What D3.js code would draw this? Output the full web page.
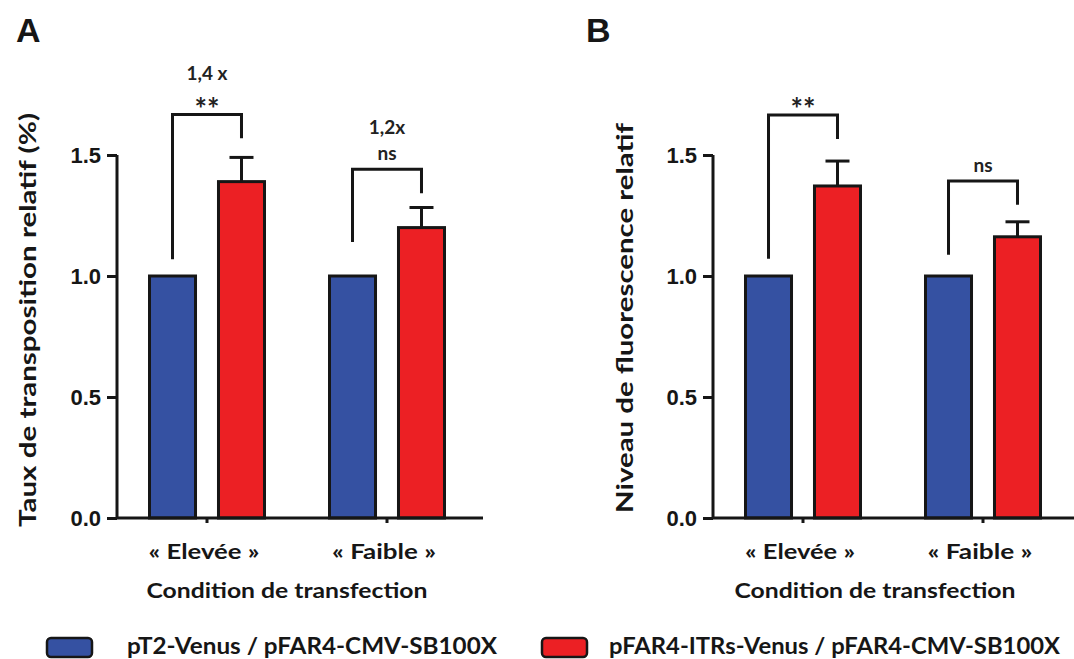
<!DOCTYPE html>
<html><head><meta charset="utf-8">
<script src="https://cdn.jsdelivr.net/npm/d3@7"></script>
<style>
html,body{margin:0;padding:0;background:#fff;}
svg{display:block;}
</style></head>
<body>
<svg id="chart" width="1074" height="659"></svg>
<script>
// ---------- data ----------
const categories = ["« Elevée »", "« Faible »"];
const series = ["pT2-Venus / pFAR4-CMV-SB100X", "pFAR4-ITRs-Venus / pFAR4-CMV-SB100X"];
const yTicks = [0, 0.5, 1.0, 1.5];

const blueA = [1.0, 1.0];
const redA = [1.39, 1.20];
const redErrA = [0.10, 0.083];
const sigA = ["**", "ns"];
const foldA = ["1,4 x", "1,2x"];
// bracket heights (data units): top, left-leg bottom, right-leg bottom
const bracketTopA = [1.667, 1.441];
const bracketLeftA = [1.069, 1.14];
const bracketRightA = [1.569, 1.342];

const blueB = [1.0, 1.0];
const redB = [1.372, 1.162];
const redErrB = [0.103, 0.062];
const sigB = ["**", "ns"];
const foldB = ["", ""];
const bracketTopB = [1.665, 1.393];
const bracketLeftB = [1.071, 1.088];
const bracketRightB = [1.566, 1.294];

const colors = ["#3551a2", "#ec2024"];
const calibri = "Lato, 'Open Sans', sans-serif";
const arial = "'Liberation Sans', Arial, sans-serif";
const ink = "#161616";

const svg = d3.select("#chart");

function panel(cfg) {
  const g = svg.append("g");
  const y = d3.scaleLinear().domain([0, 1.5]).range([518, 155]);
  const x = d3.scaleBand().domain(categories).range([cfg.x0, cfg.x0 + 360]).paddingInner(0).paddingOuter(0);
  const inner = d3.scaleBand().domain([0, 1]).range([-57.5, 57.5]).paddingInner(0.333).paddingOuter(0);
  const cx = c => x(c) + x.bandwidth() / 2;

  // bars
  const rows = [];
  categories.forEach((c, i) => {
    rows.push({c, s: 0, v: cfg.blue[i], e: 0});
    rows.push({c, s: 1, v: cfg.red[i], e: cfg.err[i]});
  });
  g.selectAll("rect.bar").data(rows).join("rect")
    .attr("class", "bar")
    .attr("x", d => cx(d.c) + inner(d.s))
    .attr("width", inner.bandwidth())
    .attr("y", d => y(d.v))
    .attr("height", d => y(0) - y(d.v))
    .attr("fill", d => colors[d.s])
    .attr("stroke", ink)
    .attr("stroke-width", 3);

  // error bars
  const errs = rows.filter(d => d.e > 0);
  g.selectAll("line.stem").data(errs).join("line")
    .attr("x1", d => cx(d.c) + inner(d.s) + inner.bandwidth() / 2)
    .attr("x2", d => cx(d.c) + inner(d.s) + inner.bandwidth() / 2)
    .attr("y1", d => y(d.v)).attr("y2", d => y(d.v + d.e))
    .attr("stroke", ink).attr("stroke-width", 3);
  g.selectAll("line.cap").data(errs).join("line")
    .attr("x1", d => cx(d.c) + inner(d.s) + inner.bandwidth() / 2 - 12)
    .attr("x2", d => cx(d.c) + inner(d.s) + inner.bandwidth() / 2 + 12)
    .attr("y1", d => y(d.v + d.e)).attr("y2", d => y(d.v + d.e))
    .attr("stroke", ink).attr("stroke-width", 3);

  // brackets
  categories.forEach((c, i) => {
    const xl = cx(c) + inner(0) + inner.bandwidth() / 2;
    const xr = cx(c) + inner(1) + inner.bandwidth() / 2;
    const path = d3.path();
    path.moveTo(xl, y(cfg.bl[i]));
    path.lineTo(xl, y(cfg.bt[i]));
    path.lineTo(xr, y(cfg.bt[i]));
    path.lineTo(xr, y(cfg.br[i]));
    g.append("path").attr("d", path.toString()).attr("fill", "none")
      .attr("stroke", ink).attr("stroke-width", 3);
    const mx = (xl + xr) / 2;
    const sig = cfg.sig[i];
    if (sig === "**") {
      g.append("text").attr("x", mx).attr("y", y(cfg.bt[i]) + 5)
        .attr("text-anchor", "middle")
        .attr("font-family", calibri).attr("font-weight", "bold")
        .attr("font-size", 30).attr("fill", "#222")
        .attr("textLength", 25).attr("lengthAdjust", "spacingAndGlyphs")
        .text(sig);
    } else {
      g.append("text").attr("x", mx).attr("y", y(cfg.bt[i]) - 9)
        .attr("text-anchor", "middle")
        .attr("font-family", calibri).attr("font-weight", "bold")
        .attr("font-size", 19).attr("fill", "#222")
        .text(sig);
    }
    if (cfg.fold[i]) {
      g.append("text").attr("x", mx).attr("y", y(cfg.bt[i]) - 35)
        .attr("text-anchor", "middle")
        .attr("font-family", calibri).attr("font-weight", "bold")
        .attr("font-size", 19).attr("fill", "#222")
        .text(cfg.fold[i]);
    }
  });

  // y axis
  const yAxis = d3.axisLeft(y).tickValues(yTicks).tickFormat(d3.format(".1f")).tickSize(10).tickPadding(6);
  const ya = g.append("g").attr("transform", `translate(${cfg.x0},0)`).call(yAxis);
  ya.select(".domain").attr("stroke", ink).attr("stroke-width", 3).attr("d", `M0,${y(1.5)}V${y(0)}`);
  ya.selectAll(".tick line").attr("stroke", ink).attr("stroke-width", 3);
  ya.selectAll(".tick text").attr("font-family", arial).attr("font-weight", "bold")
    .attr("font-size", 22).attr("fill", ink).attr("dy", "0.36em");

  // x axis
  const xAxis = d3.axisBottom(x).tickSize(5).tickFormat("");
  const xa = g.append("g").attr("transform", `translate(0,${y(0)})`).call(xAxis);
  xa.select(".domain").attr("stroke", ink).attr("stroke-width", 3).attr("d", `M${cfg.x0},0H${cfg.xEnd}`);
  xa.selectAll(".tick line").attr("stroke", ink).attr("stroke-width", 3);

  // category labels
  g.selectAll("text.cat").data(categories).join("text")
    .attr("class", "cat")
    .attr("x", d => cx(d) - 3).attr("y", 559)
    .attr("text-anchor", "middle")
    .attr("font-family", calibri).attr("font-weight", "bold").attr("font-size", 21)
    .attr("fill", ink)
    .attr("textLength", (d, i) => cfg.catLen[i]).attr("lengthAdjust", "spacingAndGlyphs")
    .text(d => d);

  // x title
  g.append("text").attr("x", (cx(categories[0]) + cx(categories[1])) / 2 + cfg.xtOff).attr("y", 598)
    .attr("text-anchor", "middle")
    .attr("font-family", calibri).attr("font-weight", "bold").attr("font-size", 21)
    .attr("fill", ink)
    .attr("textLength", 281).attr("lengthAdjust", "spacingAndGlyphs")
    .text("Condition de transfection");

  // y title
  g.append("text")
    .attr("transform", `translate(${cfg.ytX},${cfg.ytY}) rotate(-90)`)
    .attr("text-anchor", "middle").attr("dy", "0.35em")
    .attr("font-family", calibri).attr("font-weight", "bold").attr("font-size", 22)
    .attr("fill", ink)
    .attr("textLength", cfg.ytLen).attr("lengthAdjust", "spacingAndGlyphs")
    .text(cfg.ytitle);

  // panel letter
  g.append("text").attr("x", cfg.letterX).attr("y", 42)
    .attr("font-family", arial).attr("font-weight", "bold").attr("font-size", 34)
    .attr("fill", ink).text(cfg.letter);
}

panel({x0: 117, xEnd: 483, blue: blueA, red: redA, err: redErrA, sig: sigA, fold: foldA,
  bt: bracketTopA, bl: bracketLeftA, br: bracketRightA,
  catLen: [111, 104], xtOff: -10,
  ytitle: "Taux de transposition relatif (%)", ytX: 28, ytY: 320, ytLen: 414,
  letter: "A", letterX: 16});

panel({x0: 713, xEnd: 1074, blue: blueB, red: redB, err: redErrB, sig: sigB, fold: foldB,
  bt: bracketTopB, bl: bracketLeftB, br: bracketRightB,
  catLen: [110, 105], xtOff: -18,
  ytitle: "Niveau de fluorescence relatif", ytX: 625, ytY: 318, ytLen: 390,
  letter: "B", letterX: 586});

// legend
const legX = [47, 542];
const legTextX = [127, 609];
const legLen = [370, 451];
series.forEach((s, i) => {
  svg.append("rect").attr("x", legX[i]).attr("y", 638).attr("width", 45).attr("height", 19)
    .attr("rx", 4).attr("fill", colors[i]).attr("stroke", ink).attr("stroke-width", 2.5);
  svg.append("text").attr("x", legTextX[i]).attr("y", 654)
    .attr("font-family", calibri).attr("font-weight", "bold").attr("font-size", 22)
    .attr("fill", ink)
    .attr("textLength", legLen[i]).attr("lengthAdjust", "spacingAndGlyphs")
    .text(s);
});
</script>
</body></html>
